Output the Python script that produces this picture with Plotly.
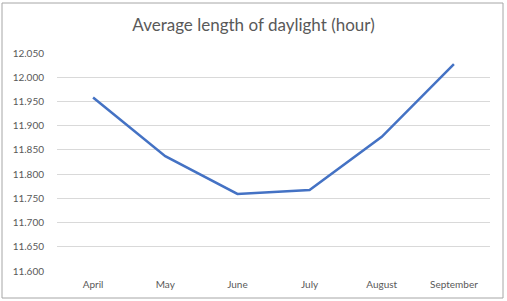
import plotly.graph_objects as go

months = ["April", "May", "June", "July", "August", "September"]
daylight = [11.958, 11.837, 11.759, 11.767, 11.877, 12.027]
y_ticks = [11.60, 11.65, 11.70, 11.75, 11.80, 11.85, 11.90, 11.95, 12.00, 12.05]

fig = go.Figure()
fig.add_trace(go.Scatter(x=months, y=daylight, mode="lines",
                         line=dict(color="#4472C4", width=2.5), hoverinfo="skip"))

fig.update_layout(
    width=507, height=301,
    margin=dict(l=57, r=17, t=53, b=30),
    paper_bgcolor="white", plot_bgcolor="white",
    showlegend=False,
    title=dict(text="Average length of daylight (hour)", x=0.5, xanchor="center",
               y=1 - 25/301, yref="container", yanchor="middle",
               font=dict(family="Lato, Open Sans, sans-serif", size=17, color="#595959")),
    font=dict(family="Lato, Open Sans, sans-serif", size=10, color="#595959"),
)
fig.update_xaxes(range=[-0.5, 5.5], showgrid=False, showline=False, zeroline=False, ticks="",
                 tickfont=dict(size=10, color="#595959"), ticklabelstandoff=6)
fig.update_yaxes(range=[11.6, 12.05], tickvals=y_ticks,
                 ticktext=[f"{v:.3f}" for v in y_ticks],
                 showgrid=True, gridcolor="#D9D9D9", gridwidth=1,
                 showline=False, zeroline=False, ticks="",
                 tickfont=dict(size=10, color="#595959"), ticklabelstandoff=12)
fig.add_shape(type="rect", xref="paper", yref="paper",
              x0=-55/433, x1=1 + 13/433, y0=-27/218, y1=1 + 50/218,
              line=dict(color="#A6A6A6", width=1), layer="below")
fig.write_html("out.html")
